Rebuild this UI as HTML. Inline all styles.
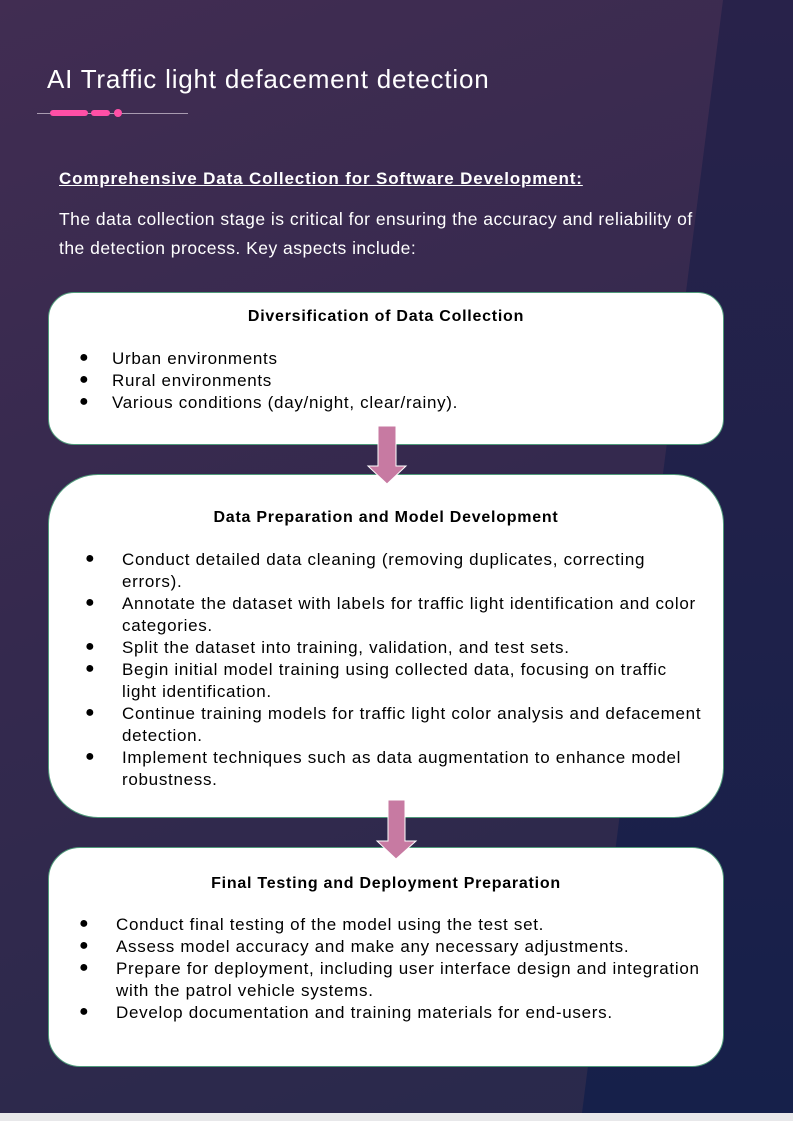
<!DOCTYPE html>
<html><head><style>
*{margin:0;padding:0;box-sizing:border-box}
body{width:793px;height:1121px;overflow:hidden;background:#e8e8ea;font-family:"Liberation Sans",sans-serif;position:relative}
.bg{position:absolute;left:0;top:0;width:793px;height:1113px;background:linear-gradient(160deg,#412d52 0%,#35294e 45%,#28294b 100%)}
.dark{position:absolute;left:0;top:0;width:793px;height:1113px;background:linear-gradient(180deg,#28224a,#16204a);clip-path:polygon(723px 0,793px 0,793px 1113px,582px 1113px)}
.t{position:absolute;white-space:nowrap;color:#000;font-size:17px;line-height:22px;letter-spacing:0.7px}
.w{color:#fff}
.box{position:absolute;left:48px;width:676px;background:#fff;border:1.5px solid #4f9a7a}
.h{position:absolute;left:48px;width:676px;text-align:center;font-weight:bold;font-size:16px;color:#000;letter-spacing:0.75px}
.b{position:absolute;font-size:16px;color:#000}
</style></head><body>
<div class="bg"></div><div class="dark"></div>
<div class="t w" style="left:47px;top:64px;font-size:26px;line-height:30px;letter-spacing:0.8px">AI Traffic light defacement detection</div>
<div style="position:absolute;left:37px;top:112.5px;width:151px;height:1px;background:#a89bb0"></div>
<div style="position:absolute;left:50px;top:110px;width:38px;height:6px;border-radius:3px;background:#ff4fa6"></div>
<div style="position:absolute;left:91px;top:110px;width:19px;height:6px;border-radius:3px;background:#ff4fa6"></div>
<div style="position:absolute;left:114px;top:109px;width:8px;height:8px;border-radius:50%;background:#ff4fa6"></div>
<div class="t w" style="left:59px;top:168px;font-weight:bold;text-decoration:underline;letter-spacing:0.85px">Comprehensive Data Collection for Software Development:</div>
<div class="t w" style="left:59px;top:205px;line-height:29px;font-size:17.5px;letter-spacing:0.48px">The data collection stage is critical for ensuring the accuracy and reliability of<br>the detection process. Key aspects include:</div>

<div class="box" style="top:292px;height:153px;border-radius:26px"></div>
<div class="h" style="top:308px">Diversification of Data Collection</div>
<div class="b" style="left:79px;top:349px">●</div><div class="t" style="left:112px;top:348px">Urban environments</div>
<div class="b" style="left:79px;top:371px">●</div><div class="t" style="left:112px;top:370px">Rural environments</div>
<div class="b" style="left:79px;top:393px">●</div><div class="t" style="left:112px;top:392px">Various conditions (day/night, clear/rainy).</div>

<div class="box" style="top:474px;height:344px;border-radius:50px"></div>
<div class="h" style="top:509px">Data Preparation and Model Development</div>
<div class="b" style="left:85px;top:550px">●</div><div class="t" style="left:122px;top:549px">Conduct detailed data cleaning (removing duplicates, correcting<br>errors).</div>
<div class="b" style="left:85px;top:594px">●</div><div class="t" style="left:122px;top:593px">Annotate the dataset with labels for traffic light identification and color<br>categories.</div>
<div class="b" style="left:85px;top:638px">●</div><div class="t" style="left:122px;top:637px">Split the dataset into training, validation, and test sets.</div>
<div class="b" style="left:85px;top:660px">●</div><div class="t" style="left:122px;top:659px">Begin initial model training using collected data, focusing on traffic<br>light identification.</div>
<div class="b" style="left:85px;top:704px">●</div><div class="t" style="left:122px;top:703px">Continue training models for traffic light color analysis and defacement<br>detection.</div>
<div class="b" style="left:85px;top:748px">●</div><div class="t" style="left:122px;top:747px">Implement techniques such as data augmentation to enhance model<br>robustness.</div>

<div class="box" style="top:847px;height:220px;border-radius:32px"></div>
<div class="h" style="top:875px">Final Testing and Deployment Preparation</div>
<div class="b" style="left:79px;top:915px">●</div><div class="t" style="left:116px;top:914px">Conduct final testing of the model using the test set.</div>
<div class="b" style="left:79px;top:937px">●</div><div class="t" style="left:116px;top:936px">Assess model accuracy and make any necessary adjustments.</div>
<div class="b" style="left:79px;top:959px">●</div><div class="t" style="left:116px;top:958px">Prepare for deployment, including user interface design and integration<br>with the patrol vehicle systems.</div>
<div class="b" style="left:79px;top:1003px">●</div><div class="t" style="left:116px;top:1002px">Develop documentation and training materials for end-users.</div>

<svg style="position:absolute;left:0;top:0" width="793" height="1121">
<polygon points="378,426 396,426 396,466 406,466 387,484 368,466 378,466" fill="#c77aa2" stroke="#fff" stroke-width="1"/>
<polygon points="388,800 405,800 405,841 416,841 396,859 377,841 388,841" fill="#c77aa2" stroke="#fff" stroke-width="1"/>
</svg>
</body></html>
